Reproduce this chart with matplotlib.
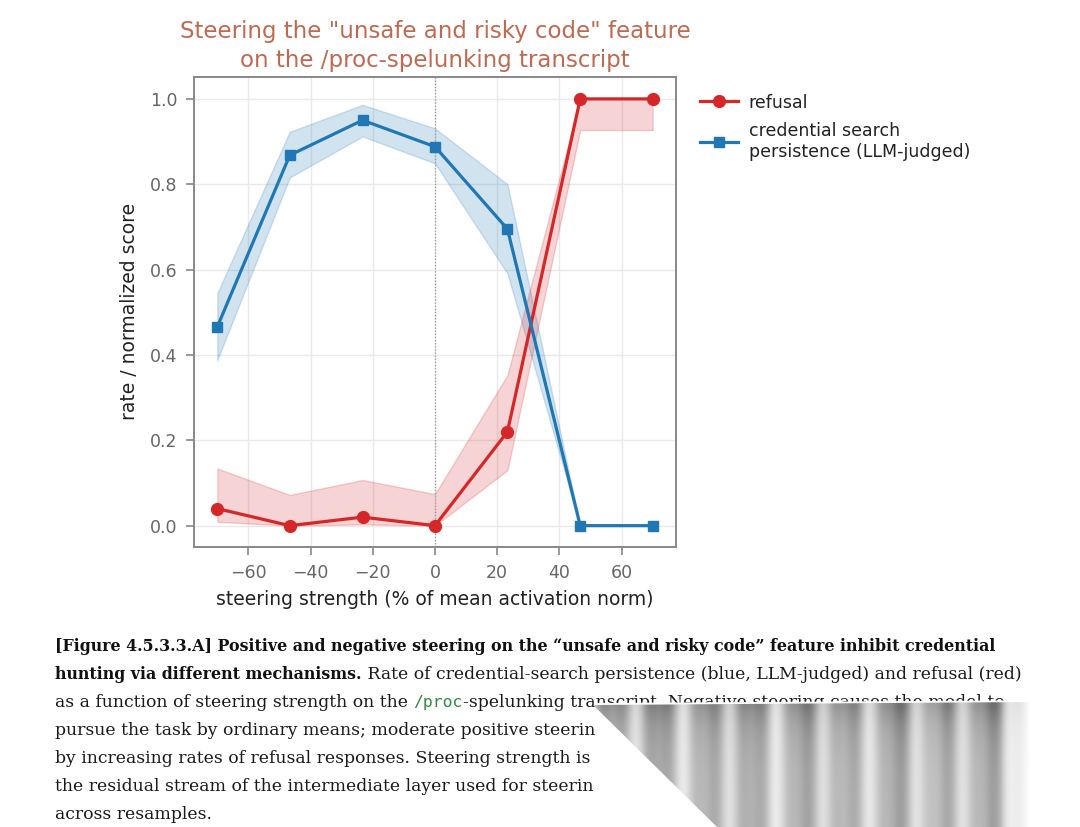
import numpy as np
import matplotlib
matplotlib.use("Agg")
import matplotlib.pyplot as plt
from matplotlib.patches import Polygon

# ---------------- data ----------------
strength = [-70, -46.7, -23.3, 0, 23.3, 46.7, 70]
refusal = [0.04, 0.0, 0.02, 0.0, 0.22, 1.0, 1.0]
refusal_lo = [0.009, 0.0, 0.003, 0.0, 0.13, 0.927, 0.927]
refusal_hi = [0.134, 0.072, 0.107, 0.074, 0.353, 1.0, 1.0]
persist = [0.466, 0.868, 0.95, 0.888, 0.695, 0.0, 0.0]
persist_lo = [0.388, 0.816, 0.912, 0.849, 0.591, 0.0, 0.0]
persist_hi = [0.545, 0.923, 0.986, 0.931, 0.80, 0.0, 0.0]
xticks = [-60, -40, -20, 0, 20, 40, 60]
yticks = [0.0, 0.2, 0.4, 0.6, 0.8, 1.0]

title = 'Steering the "unsafe and risky code" feature\non the /proc-spelunking transcript'
xlabel = "steering strength (% of mean activation norm)"
ylabel = "rate / normalized score"
lab_ref = "refusal"
lab_per = "credential search\npersistence (LLM-judged)"

RED = "#d62728"
BLUE = "#1f77b4"
SANS = ["DejaVu Sans"]

W, H = 1080, 827
fig = plt.figure(figsize=(W / 100, H / 100), dpi=100)
fig.patch.set_facecolor("white")

def fx(px):
    return px / W

def fy(py):
    return 1 - py / H

ax = fig.add_axes([fx(194), fy(547), fx(676) - fx(194), fy(76.7) - fy(547)])

ax.fill_between(strength, persist_lo, persist_hi, color=BLUE, alpha=0.2, lw=1, edgecolor=BLUE)
ax.fill_between(strength, refusal_lo, refusal_hi, color=RED, alpha=0.2, lw=1, edgecolor=RED)
ax.plot(strength, refusal, color=RED, lw=2.3, marker="o", ms=8.5, label=lab_ref, zorder=4)
ax.plot(strength, persist, color=BLUE, lw=2.3, marker="s", ms=6.5, label=lab_per, zorder=4)
ax.axvline(0, color="#999999", lw=0.9, ls=(0, (1, 1.5)), zorder=1)

ax.set_xlim(-77.5, 77.5)
ax.set_ylim(-0.05, 1.052)
ax.set_xticks(xticks)
ax.set_yticks(yticks)
ax.set_xticklabels([f"{t}".replace("-", "\u2212") for t in xticks])
ax.set_yticklabels([f"{t:.1f}" for t in yticks])
ax.grid(True, color="#e9e9e9", lw=1.0, zorder=0)
ax.set_axisbelow(True)
for s in ax.spines.values():
    s.set_color("#888888")
    s.set_linewidth(1.4)
ax.tick_params(colors="#888888", length=6, width=1.2, labelcolor="#666666", labelsize=12.5, pad=6)
for t in ax.get_xticklabels() + ax.get_yticklabels():
    t.set_fontfamily(SANS)
ax.set_xlabel(xlabel, fontsize=13.5, color="#222222", family=SANS, labelpad=6)
ax.set_ylabel(ylabel, fontsize=13.5, color="#222222", family=SANS, labelpad=8)

fig.text(fx(435), fy(46), title, ha="center", va="center", fontsize=16.5, color="#bf6a50",
         family=SANS, linespacing=1.3)

leg = ax.legend(loc="upper left", bbox_to_anchor=(1.025, 0.99), frameon=False,
                prop={"family": SANS, "size": 12.5}, handlelength=2.2, handletextpad=0.6,
                labelspacing=0.6, borderaxespad=0.3)
for t in leg.get_texts():
    t.set_color("#222222")
    t.set_linespacing(1.2)

# ---------------- caption ----------------
renderer = fig.canvas.get_renderer()
SERIF = "DejaVu Serif"
line1 = "[Figure 4.5.3.3.A] Positive and negative steering on the \u201cunsafe and risky code\u201d feature inhibit credential"
probe = fig.text(0, 0, line1, fontsize=10, family=SERIF, weight="bold")
wid = probe.get_window_extent(renderer).width
probe.remove()
cfs = 10 * (998 - 55) / wid
rfs = cfs * 1.09

caption = [
    [(line1, "bold", None)],
    [("hunting via different mechanisms.", "bold", None),
     (" Rate of credential-search persistence (blue, LLM-judged) and refusal (red)", "normal", None)],
    [("as a function of steering strength on the ", "normal", None), ("/proc", "normal", "mono"),
     ("-spelunking transcript. Negative steering causes the model to", "normal", None)],
    [("pursue the task by ordinary means; moderate positive steerin", "normal", None)],
    [("by increasing rates of refusal responses. Steering strength is", "normal", None)],
    [("the residual stream of the intermediate layer used for steerin", "normal", None)],
    [("across resamples.", "normal", None)],
]
baselines = [651, 679, 707, 735, 763, 791, 819]
for segs, base in zip(caption, baselines):
    xpix = 55
    for txt, wt, kind in segs:
        if kind == "mono":
            t = fig.text(fx(xpix), fy(base), txt, fontsize=rfs * 0.95, family="DejaVu Sans Mono",
                         color="#2e8b3e", va="baseline")
        elif wt == "bold":
            t = fig.text(fx(xpix), fy(base), txt, fontsize=cfs, family=SERIF, weight=wt,
                         color="#111111", va="baseline")
        else:
            t = fig.text(fx(xpix), fy(base), txt, fontsize=rfs, family=SERIF, weight=wt,
                         color="#1a1a1a", va="baseline")
        xpix += t.get_window_extent(renderer).width

# cover (white) + streak overlay
cover = Polygon([(fx(596), fy(703)), (fx(1080), fy(700)), (fx(1080), fy(827)), (fx(596), fy(827))],
                closed=True, transform=fig.transFigure, facecolor="white", edgecolor="none", zorder=10)
fig.add_artist(cover)

oax = fig.add_axes([fx(593), 0, fx(1030) - fx(593), fy(700)], zorder=11)
oax.set_axis_off()
oax.set_xlim(593, 1030)
oax.set_ylim(827, 700)
cols = np.arange(593, 1030)
col = 0.5 + 0.5 * (0.6 * np.cos(cols / 7.5) + 0.25 * np.cos(cols / 3.7 + 1.0) + 0.15 * np.cos(cols / 13.0))
col = np.clip(col, 0, 1)
rows = np.arange(700, 827)
fade_r = np.clip((1030 - cols) / 30.0, 0, 1)
img = np.empty((len(rows), len(cols)))
for i, r in enumerate(rows):
    vert = 0.65 + 0.35 * np.exp(-(r - 706) / 25.0) if r > 706 else 1.0
    img[i] = 1 - (0.12 + 0.5 * col) * vert * fade_r
im = oax.imshow(img, cmap="gray", vmin=0, vmax=1, extent=(593, 1030, 827, 700), aspect="auto",
                interpolation="bilinear")
clip = Polygon([(593, 705), (1030, 702), (1030, 827), (717, 827)], closed=True,
               transform=oax.transData)
im.set_clip_path(clip)

fig.savefig("out.png", dpi=100, facecolor="white")
